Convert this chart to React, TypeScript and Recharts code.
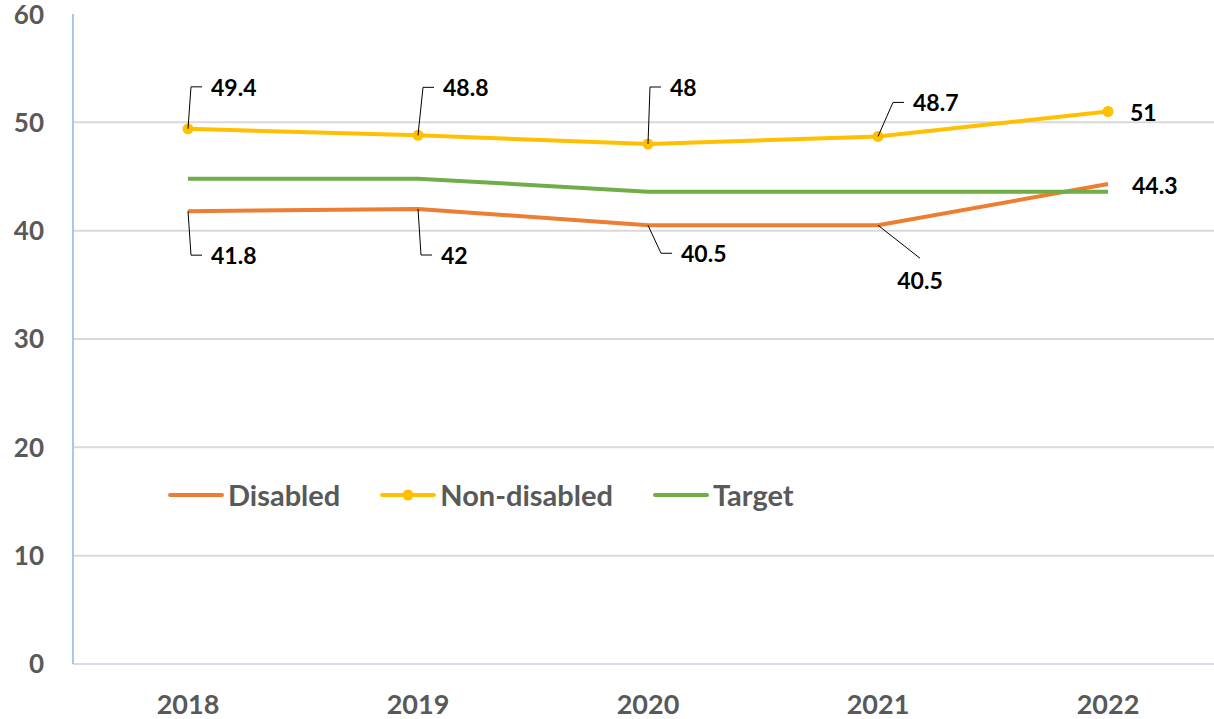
import { LineChart, Line, XAxis, YAxis, CartesianGrid, LabelList } from "recharts";

const years = ["2018", "2019", "2020", "2021", "2022"];
const disabled = [41.8, 42, 40.5, 40.5, 44.3];
const nonDisabled = [49.4, 48.8, 48, 48.7, 51];
const target = [44.8, 44.8, 43.6, 43.6, 43.6];
const yTicks = [0, 10, 20, 30, 40, 50, 60];

const data = years.map((year, i) => ({
  year,
  disabled: disabled[i],
  nonDisabled: nonDisabled[i],
  target: target[i],
}));

const FONT = "Lato, 'Open Sans', sans-serif";
const ORANGE = "#ED7D31";
const YELLOW = "#FFC000";
const GREEN = "#70AD47";
const GREY_TEXT = "#595959";

// label placement relative to the point: dx/dy of text start, leader style
type LabelPos = { dx: number; dy: number; leader: "elbow" | "none" | "below" };
const NON_DISABLED_POS: LabelPos[] = [
  { dx: 23, dy: -42, leader: "elbow" },
  { dx: 25, dy: -48, leader: "elbow" },
  { dx: 22, dy: -57, leader: "elbow" },
  { dx: 35, dy: -34, leader: "elbow" },
  { dx: 22, dy: 0, leader: "none" },
];
const DISABLED_POS: LabelPos[] = [
  { dx: 23, dy: 44, leader: "elbow" },
  { dx: 23, dy: 46, leader: "elbow" },
  { dx: 33, dy: 28, leader: "elbow" },
  { dx: 42, dy: 55, leader: "below" },
  { dx: 24, dy: 1, leader: "none" },
];

const makeLabel = (positions: LabelPos[]) => (props: any) => {
  const { x, y, value, index } = props;
  const p = positions[index];
  if (!p) return null;
  const tx = x + p.dx;
  const ty = y + p.dy;
  const textStyle = { fontFamily: FONT, fontWeight: 700, fontSize: 23, fill: "#000" };
  if (p.leader === "below") {
    return (
      <g>
        <line x1={x} y1={y} x2={tx} y2={ty - 22} stroke="#000" strokeWidth={1} />
        <text x={tx} y={ty} textAnchor="middle" dominantBaseline="central" style={textStyle}>
          {value}
        </text>
      </g>
    );
  }
  return (
    <g>
      {p.leader === "elbow" && (
        <polyline
          points={`${x},${y} ${tx - 20},${ty} ${tx - 9},${ty}`}
          fill="none"
          stroke="#000"
          strokeWidth={1}
        />
      )}
      <text x={tx} y={ty} textAnchor="start" dominantBaseline="central" style={textStyle}>
        {value}
      </text>
    </g>
  );
};

const legendItems = [
  { name: "Disabled", color: ORANGE, dot: false },
  { name: "Non-disabled", color: YELLOW, dot: true },
  { name: "Target", color: GREEN, dot: false },
];

const ChartLegend = () => (
  <div style={{ display: "flex", alignItems: "center", gap: 40 }}>
    {legendItems.map((item) => (
      <div key={item.name} style={{ display: "flex", alignItems: "center" }}>
        <svg width={56} height={14}>
          <line x1={2} y1={7} x2={54} y2={7} stroke={item.color} strokeWidth={4} strokeLinecap="round" />
          {item.dot && <circle cx={28} cy={7} r={5.5} fill={item.color} />}
        </svg>
        <span
          style={{
            marginLeft: 4,
            fontFamily: FONT,
            fontWeight: 700,
            fontSize: 29,
            color: GREY_TEXT,
            lineHeight: 1,
          }}
        >
          {item.name}
        </span>
      </div>
    ))}
  </div>
);

export default function App() {
  return (
    <div
      style={{
        position: "absolute",
        left: 0,
        top: 0,
        width: 1214,
        height: 719,
        overflow: "hidden",
        background: "#fff",
      }}
    >
      <LineChart
        width={1223}
        height={719}
        data={data}
        margin={{ top: 14, right: 0, bottom: 0, left: 0 }}
      >
        <CartesianGrid
          vertical={false}
          horizontalValues={[10, 20, 30, 40, 50]}
          stroke="#d9d9d9"
          strokeWidth={2}
        />
        <XAxis
          dataKey="year"
          height={55}
          padding={{ left: 115, right: 115 }}
          tickLine={false}
          tickMargin={25}
          axisLine={{ stroke: "#d3dbe6", strokeWidth: 2 }}
          tick={{ fontFamily: FONT, fontWeight: 700, fontSize: 27, fill: GREY_TEXT }}
        />
        <YAxis
          domain={[0, 60]}
          ticks={yTicks}
          width={73}
          tickLine={false}
          tickMargin={23}
          axisLine={{ stroke: "#a9c8e6", strokeWidth: 2 }}
          tick={{ fontFamily: FONT, fontWeight: 700, fontSize: 26, fill: GREY_TEXT }}
        />
        <Line
          type="linear"
          dataKey="disabled"
          name="Disabled"
          stroke={ORANGE}
          strokeWidth={4}
          dot={false}
          isAnimationActive={false}
        >
          <LabelList dataKey="disabled" content={makeLabel(DISABLED_POS)} />
        </Line>
        <Line
          type="linear"
          dataKey="nonDisabled"
          name="Non-disabled"
          stroke={YELLOW}
          strokeWidth={4}
          dot={{ r: 5.5, fill: YELLOW, stroke: YELLOW, strokeWidth: 0 }}
          isAnimationActive={false}
        >
          <LabelList dataKey="nonDisabled" content={makeLabel(NON_DISABLED_POS)} />
        </Line>
        <Line
          type="linear"
          dataKey="target"
          name="Target"
          stroke={GREEN}
          strokeWidth={4}
          dot={false}
          isAnimationActive={false}
        />
      </LineChart>
      <div style={{ position: "absolute", left: 168, top: 480 }}>
        <ChartLegend />
      </div>
    </div>
  );
}
